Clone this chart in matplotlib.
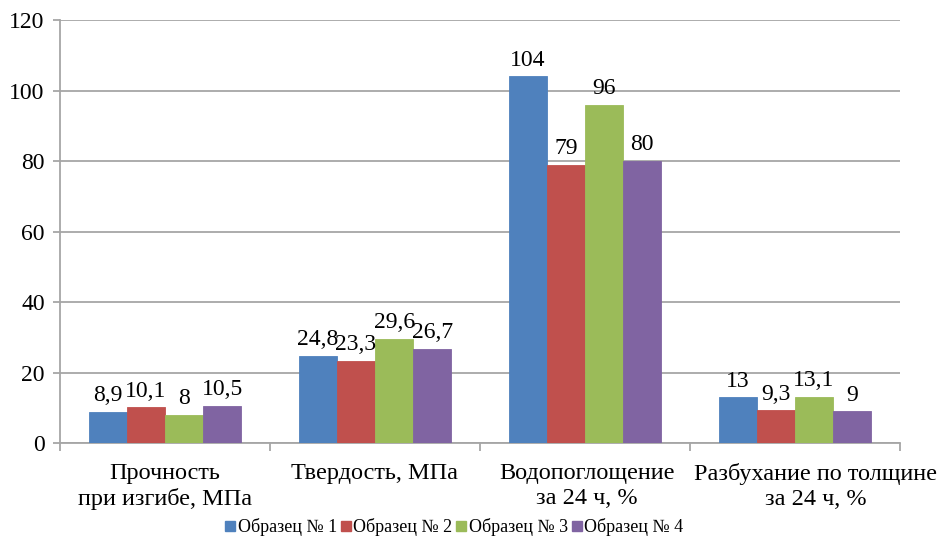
import matplotlib
matplotlib.use("Agg")
import matplotlib.pyplot as plt
from matplotlib.lines import Line2D
import numpy as np

# Data
categories = [
    "Прочность\nпри изгибе, МПа",
    "Твердость, МПа",
    "Водопоглощение\nза 24 ч, %",
    "Разбухание по толщине\nза 24 ч, %",
]
series_names = ["Образец № 1", "Образец № 2", "Образец № 3", "Образец № 4"]
sample_1 = [8.9, 24.8, 104, 13]
sample_2 = [10.1, 23.3, 79, 9.3]
sample_3 = [8, 29.6, 96, 13.1]
sample_4 = [10.5, 26.7, 80, 9]
yticks = [0, 20, 40, 60, 80, 100, 120]

colors = ["#4F81BD", "#C0504D", "#9BBB59", "#8064A2"]
grid_grey = "#A6A6A6"

plt.rcParams["font.family"] = ["Liberation Serif", "DejaVu Serif"]

fig = plt.figure(figsize=(9.4, 5.47), dpi=100)
ax = fig.add_axes([0.0638, 0.190, 0.8936, 0.7734])

x = np.arange(len(categories))
bar_w = 0.182
values = [sample_1, sample_2, sample_3, sample_4]


def fmt(v):
    s = f"{v:g}"
    return s.replace(".", ",")


for i, (vals, col) in enumerate(zip(values, colors)):
    pos = x + (i - 1.5) * bar_w
    ax.bar(pos, vals, width=bar_w, color=col, edgecolor=col, linewidth=0.6, zorder=3)
    for px, v in zip(pos, vals):
        ax.text(px, v + 1.6, fmt(v), ha="center", va="bottom", fontsize=17, zorder=4)

ax.set_xlim(-0.5, len(categories) - 0.5)
ax.set_ylim(0, 120)
ax.set_yticks(yticks)
ax.set_yticklabels([str(t) for t in yticks], fontsize=17)
ax.yaxis.grid(True, color=grid_grey, linewidth=1.3, zorder=0)
ax.set_axisbelow(True)

# category labels under the axis; the last one is nudged right so it
# does not run into its neighbour
ax.set_xticks(x)
ax.set_xticklabels([])
ax.tick_params(axis="x", which="major", length=0)
label_shift = [0, 0, 0.01, 0.10]
for xi, name, dx in zip(x, categories, label_shift):
    ax.annotate(name, xy=(xi + dx, 0), xycoords=("data", "axes fraction"),
                xytext=(0, -14), textcoords="offset points",
                ha="center", va="top", fontsize=17.5, linespacing=1.25)

ax.set_xticks(np.arange(-0.5, len(categories)), minor=True)
ax.tick_params(axis="x", which="minor", length=6, color=grid_grey, width=1.3)
ax.tick_params(axis="y", length=5, color=grid_grey, width=1.3, pad=6)

for side in ("top", "right"):
    ax.spines[side].set_visible(False)
for side in ("left", "bottom"):
    ax.spines[side].set_color(grid_grey)
    ax.spines[side].set_linewidth(1.3)

handles = [
    Line2D([], [], marker="s", linestyle="none", markersize=6.5,
           markerfacecolor=c, markeredgecolor=c)
    for c in colors
]
fig.legend(handles, series_names, loc="center", bbox_to_anchor=(0.483, 0.036),
           ncol=4, frameon=False, fontsize=13, handlelength=0.6,
           handletextpad=0.1, columnspacing=0.2, borderaxespad=0)

fig.savefig("out.png", dpi=100)
